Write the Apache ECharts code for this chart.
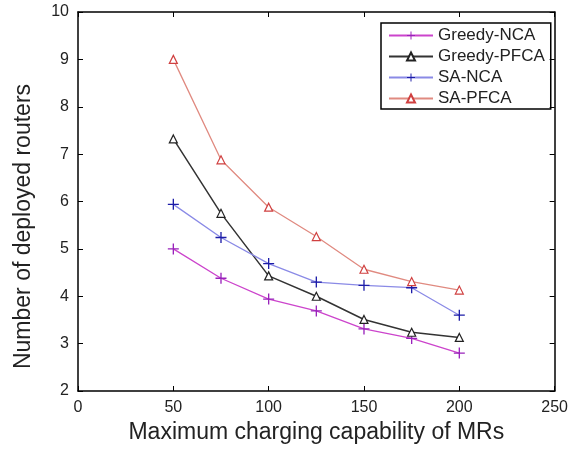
<!DOCTYPE html>
<html>
<head>
<meta charset="utf-8">
<script src="https://cdn.jsdelivr.net/npm/echarts@6/dist/echarts.min.js"></script>
<style>
  html, body { margin: 0; padding: 0; background: #fff; }
  #routerChart { width: 571px; height: 455px; }
</style>
</head>
<body>
<div id="routerChart"></div>
<script>
// charging capability of MRs (x values)
var dataSumbuX = [50, 75, 100, 125, 150, 175, 200];

var greedyNCA = [5.0, 4.38, 3.94, 3.69, 3.31, 3.11, 2.8];
var greedyPFCA = [7.32, 5.75, 4.43, 4.0, 3.51, 3.24, 3.13];
var saNCA = [5.94, 5.24, 4.69, 4.3, 4.23, 4.18, 3.6];
var saPFCA = [9.0, 6.88, 5.88, 5.26, 4.57, 4.31, 4.13];

var plusIcon = "path://M4.4,0H5.6V4.4H10V5.6H5.6V10H4.4V5.6H0V4.4H4.4Z";

function pasangan(arr) {
  return dataSumbuX.map(function (x, i) {
    return [x, arr[i]];
  });
}

var routerChart = echarts.init(document.getElementById("routerChart"));

var option = {
  animation: false,
  textStyle: { fontFamily: "Liberation Sans" },
  grid: { left: 78, right: 13, top: 12, bottom: 64 },
  legend: {
    orient: "vertical",
    left: 381,
    top: 23,
    padding: [4, 6, 2, 7],
    itemGap: 4,
    itemWidth: 44,
    itemHeight: 10,
    borderColor: "#000",
    borderWidth: 1.5,
    textStyle: { fontSize: 17, lineHeight: 17, color: "#222" },
    data: ["Greedy-NCA", "Greedy-PFCA", "SA-NCA", "SA-PFCA"],
  },
  xAxis: [
    {
      type: "value",
      min: 0,
      max: 250,
      interval: 50,
      name: "Maximum charging capability of MRs",
      nameLocation: "middle",
      nameGap: 24,
      nameTextStyle: { fontSize: 23, color: "#222" },
      axisLine: { lineStyle: { color: "#000", width: 1.5 } },
      axisTick: { inside: true, length: 5, lineStyle: { color: "#000" } },
      axisLabel: { fontSize: 16, color: "#222", margin: 9 },
      splitLine: { show: false },
    },
    {
      type: "value",
      position: "top",
      min: 0,
      max: 250,
      interval: 50,
      axisLine: { show: true, onZero: false, lineStyle: { color: "#000", width: 1.5 } },
      axisTick: { inside: true, length: 5, lineStyle: { color: "#000" } },
      axisLabel: { show: false },
      splitLine: { show: false },
    },
  ],
  yAxis: [
    {
      type: "value",
      min: 2,
      max: 10,
      interval: 1,
      name: "Number of deployed routers",
      nameLocation: "middle",
      nameGap: 43,
      nameTextStyle: { fontSize: 23, color: "#222", padding: [0, 50, 0, 0] },
      axisLine: { show: true, lineStyle: { color: "#000", width: 1.5 } },
      axisTick: { show: true, inside: true, length: 5, lineStyle: { color: "#000" } },
      axisLabel: { fontSize: 16, color: "#222", margin: 9 },
      splitLine: { show: false },
    },
    {
      type: "value",
      position: "right",
      min: 2,
      max: 10,
      interval: 1,
      axisLine: { show: true, onZero: false, lineStyle: { color: "#000", width: 1.5 } },
      axisTick: { show: true, inside: true, length: 5, lineStyle: { color: "#000" } },
      axisLabel: { show: false },
      splitLine: { show: false },
    },
  ],
  series: [
    {
      name: "Greedy-NCA",
      type: "line",
      data: pasangan(greedyNCA),
      symbol: plusIcon,
      symbolSize: 11,
      lineStyle: { color: "#cc44cc", width: 1.3 },
      itemStyle: { color: "#9922bb" },
    },
    {
      name: "Greedy-PFCA",
      type: "line",
      data: pasangan(greedyPFCA),
      symbol: "triangle",
      symbolSize: 8,
      lineStyle: { color: "#333", width: 1.5 },
      itemStyle: { color: "#fff", borderColor: "#222", borderWidth: 1.2 },
    },
    {
      name: "SA-NCA",
      type: "line",
      data: pasangan(saNCA),
      symbol: plusIcon,
      symbolSize: 11,
      lineStyle: { color: "#8a8ae6", width: 1.3 },
      itemStyle: { color: "#1c1ca8" },
    },
    {
      name: "SA-PFCA",
      type: "line",
      data: pasangan(saPFCA),
      symbol: "triangle",
      symbolSize: 8,
      lineStyle: { color: "#e08a80", width: 1.3 },
      itemStyle: { color: "#fff", borderColor: "#d04040", borderWidth: 1.2 },
    },
  ],
};

routerChart.setOption(option);
</script>
</body>
</html>
